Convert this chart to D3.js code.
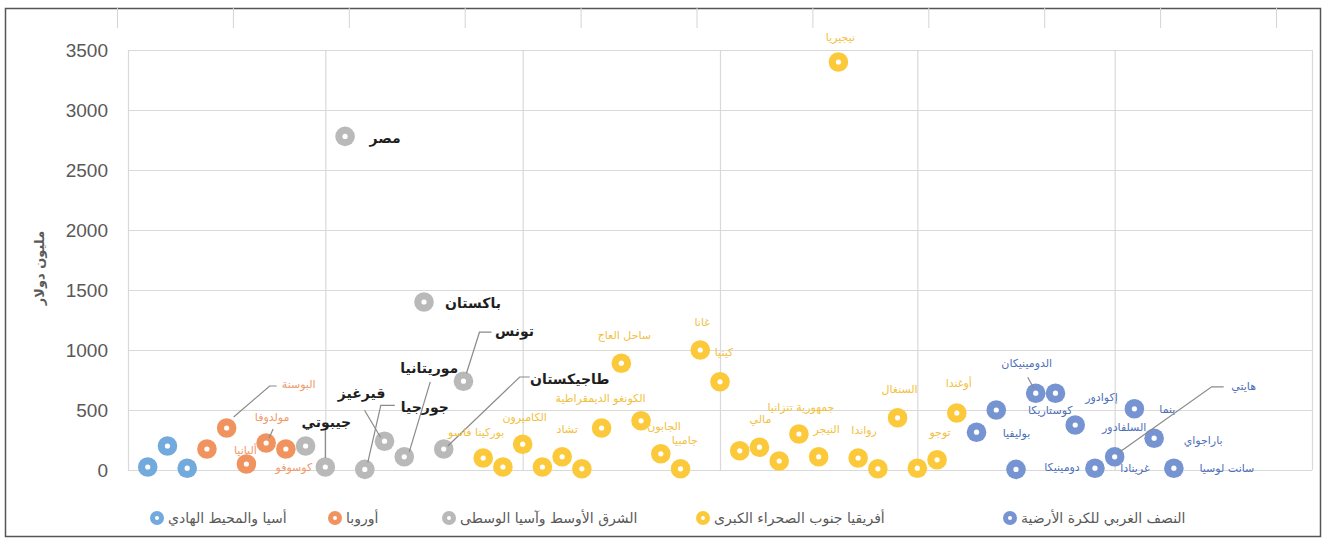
<!DOCTYPE html>
<html><head><meta charset="utf-8">
<script src="https://cdn.jsdelivr.net/npm/d3@7"></script>
<style>body{margin:0;background:#fff} svg{display:block}</style>
</head><body><svg id="chart" width="1329" height="543"></svg>
<script>
// ---- data ----
const yTicks = [0, 500, 1000, 1500, 2000, 2500, 3000, 3500];
const yTitle = "مليون دولار";
const seriesNames = ["أسيا والمحيط الهادي", "أوروبا", "الشرق الأوسط وآسيا الوسطى", "أفريقيا جنوب الصحراء الكبرى", "النصف الغربي للكرة الأرضية"];

const asiaValues = [25, 200, 15];
const asiaLabels = ["", "", ""];
const europeValues = [175, 350, 50, 225, 175];
const europeLabels = ["", "البوسنة", "ألبانيا", "مولدوفا", "كوسوفو"];
const meValues = [200, 25, 2780, 5, 240, 110, 1400, 175, 740];
const meLabels = ["", "جيبوتي", "مصر", "جورجيا", "قيرغيز", "موريتانيا", "باكستان", "طاجيكستان", "تونس"];
const ssaValues = [100, 25, 215, 25, 110, 10, 350, 890, 410, 135, 10, 1000, 735, 160, 190, 75, 300, 110, 3400, 100, 10, 435, 15, 85, 475];
const ssaLabels = ["بوركينا فاسو", "", "الكاميرون", "", "تشاد", "", "الكونغو الديمقراطية", "ساحل العاج", "الجابون", "جامبيا", "", "غانا", "كينيا", "", "مالي", "", "جمهورية تنزانيا", "النيجر", "نيجيريا", "رواندا", "", "السنغال", "", "توجو", "أوغندا"];
const whValues = [315, 500, 5, 640, 640, 375, 15, 110, 510, 265, 15];
const whLabels = ["بوليفيا", "كوستاريكا", "دومينيكا", "الدومينيكان", "إكوادور", "السلفادور", "غرينادا", "هايتي", "بنما", "باراجواي", "سانت لوسيا"];

// ---- styles ----
const seriesColors = ["#72aadd", "#f0935e", "#b9b9b9", "#fcc93a", "#7694d2"];
const labelColors = ["#72aadd", "#ef9a6a", "#1e1e1e", "#f2c040", "#4d6fb9"];
// horizontal position of each legend marker
const legendMarkerX = [157, 335, 449, 703, 1010];

// label placement relative to its point: [dx, dy], optional leader polyline
const labelLayout = {
  "البوسنة": {d: [72, -44], leader: [[50, -42], [43, -42], [7, -11]]},
  "ألبانيا": {d: [-1, -14]},
  "مولدوفا": {d: [6, -26], leader: [[7, -14], [3, -5]]},
  "كوسوفو": {d: [8, 18]},
  "جيبوتي": {d: [1, -45], leader: [[0, -37], [0, -9]]},
  "مصر": {d: [40, 2]},
  "جورجيا": {d: [60, -62], leader: [[30, -64], [16, -64], [3, -7]]},
  "قيرغيز": {d: [-23, -48], leader: [[-20, -31], [-4, -4]]},
  "موريتانيا": {d: [25, -89], leader: [[26, -75], [5, -5]]},
  "باكستان": {d: [49, 1]},
  "طاجيكستان": {d: [126, -70], leader: [[86, -72], [76, -72], [4, -3]]},
  "تونس": {d: [51, -50], leader: [[28, -49], [16, -49], [3, -8]]},
  "بوركينا فاسو": {d: [-7, -26]},
  "الكاميرون": {d: [2, -27]},
  "تشاد": {d: [5, -27]},
  "الكونغو الديمقراطية": {d: [-1, -30]},
  "ساحل العاج": {d: [3, -28]},
  "الجابون": {d: [23, 6]},
  "جامبيا": {d: [24, -13]},
  "غانا": {d: [2, -28]},
  "كينيا": {d: [4, -29]},
  "مالي": {d: [1, -28]},
  "جمهورية تنزانيا": {d: [2, -27]},
  "النيجر": {d: [8, -27]},
  "نيجيريا": {d: [2, -25]},
  "رواندا": {d: [6, -28]},
  "السنغال": {d: [2, -28]},
  "توجو": {d: [3, -27]},
  "أوغندا": {d: [2, -30]},
  "بوليفيا": {d: [40, 1]},
  "كوستاريكا": {d: [54, 0]},
  "دومينيكا": {d: [46, -2]},
  "الدومينيكان": {d: [-9, -30], leader: [[-8, -16], [-2, -5]]},
  "إكوادور": {d: [46, 4]},
  "السلفادور": {d: [49, 2]},
  "غرينادا": {d: [40, 0]},
  "هايتي": {d: [129, -70], leader: [[109, -70], [97, -70], [4, -4]]},
  "بنما": {d: [33, 1]},
  "باراجواي": {d: [49, 2]},
  "سانت لوسيا": {d: [53, 0]}
};

// ---- build points: countries are placed one after another along x ----
const groups = [
  [asiaValues, asiaLabels], [europeValues, europeLabels], [meValues, meLabels],
  [ssaValues, ssaLabels], [whValues, whLabels]
];
const points = [];
let idx = 1;
groups.forEach(([vals, labs], s) => {
  vals.forEach((v, i) => points.push({s, x: idx++, v, label: labs[i]}));
});

const svg = d3.select("#chart");
const plot = {left: 128, right: 1312, top: 50, bottom: 470};

const x = d3.scaleLinear().domain([0, 60]).range([plot.left, plot.right]);
const y = d3.scaleLinear().domain([0, 3500]).range([plot.bottom, plot.top]);

// outer frame
svg.append("rect").attr("x", 5.5).attr("y", 8.5).attr("width", 1315).attr("height", 528)
  .attr("fill", "#fff").attr("stroke", "#555").attr("stroke-width", 1.5);

// faint tick marks along the top edge
const topScale = d3.scaleLinear().domain([0, 10]).range([117, 1276]);
svg.append("g").attr("transform", "translate(0,8)")
  .call(d3.axisBottom(topScale).ticks(10).tickSize(20).tickFormat(""))
  .call(g => g.select(".domain").remove())
  .call(g => g.selectAll("line").attr("stroke", "#d4d4d4"));

// horizontal gridlines + tick labels
svg.append("g").attr("transform", `translate(${plot.left},0)`)
  .call(d3.axisLeft(y).tickValues(yTicks).tickFormat(d3.format("d"))
    .tickSize(-(plot.right - plot.left)).tickPadding(20))
  .call(g => g.select(".domain").remove())
  .call(g => g.selectAll("line").attr("stroke", "#d9d9d9").attr("stroke-width", 1.2))
  .call(g => g.selectAll("text").attr("fill", "#595959")
      .style("font-family", "'Liberation Sans', Arial, sans-serif").style("font-size", "19px"));

// vertical gridlines
svg.append("g").attr("transform", `translate(0,${plot.bottom})`)
  .call(d3.axisBottom(x).tickValues(d3.range(0, 61, 10)).tickSize(-(plot.bottom - plot.top)).tickFormat(""))
  .call(g => g.select(".domain").remove())
  .call(g => g.selectAll("line").attr("stroke", "#d9d9d9").attr("stroke-width", 1.2));

// y-axis title
svg.append("text")
  .attr("transform", "translate(44,268) rotate(-90)")
  .attr("text-anchor", "middle")
  .attr("fill", "#595959")
  .style("font-family", "'DejaVu Sans', sans-serif").style("font-size", "13px").style("font-weight", "bold")
  .text(yTitle);

// markers
const marks = svg.append("g");
marks.selectAll("circle.outer").data(points).join("circle")
  .attr("class", "outer")
  .attr("cx", d => x(d.x)).attr("cy", d => y(d.v)).attr("r", 9.8)
  .attr("fill", d => seriesColors[d.s]);
marks.selectAll("circle.inner").data(points).join("circle")
  .attr("class", "inner")
  .attr("cx", d => x(d.x)).attr("cy", d => y(d.v)).attr("r", 2.6)
  .attr("fill", "#fff");

// data labels and leader lines
const labelled = points.filter(d => d.label);
const lineGen = d3.line();
svg.append("g").selectAll("path").data(labelled.filter(d => labelLayout[d.label].leader)).join("path")
  .attr("d", d => lineGen(labelLayout[d.label].leader.map(([dx, dy]) => [x(d.x) + dx, y(d.v) + dy])))
  .attr("fill", "none").attr("stroke", "#8a8a8a").attr("stroke-width", 1.2);

svg.append("g").selectAll("text").data(labelled).join("text")
  .attr("x", d => x(d.x) + labelLayout[d.label].d[0])
  .attr("y", d => y(d.v) + labelLayout[d.label].d[1])
  .attr("text-anchor", "middle")
  .attr("dominant-baseline", "central")
  .attr("fill", d => labelColors[d.s])
  .style("font-family", "'DejaVu Sans', sans-serif")
  .style("font-size", d => d.s === 2 ? "14px" : "11px")
  .style("font-weight", d => d.s === 2 ? "bold" : "normal")
  .text(d => d.label);

// legend: marker on the left, name to its right
const legend = svg.append("g").attr("transform", "translate(0,518)");
const items = legend.selectAll("g").data(seriesNames).join("g")
  .attr("transform", (d, i) => `translate(${legendMarkerX[i]},0)`);
items.append("circle").attr("r", 7).attr("fill", (d, i) => seriesColors[i]);
items.append("circle").attr("r", 2).attr("fill", "#fff");
items.append("text").attr("dominant-baseline", "central")
  .attr("fill", "#595959")
  .style("font-family", "'DejaVu Sans', sans-serif").style("font-size", "14px")
  .text(d => d)
  .each(function () {
    const w = this.getComputedTextLength();
    d3.select(this).attr("x", 11 + w).attr("text-anchor", "end");
  });
</script>
</body></html>
